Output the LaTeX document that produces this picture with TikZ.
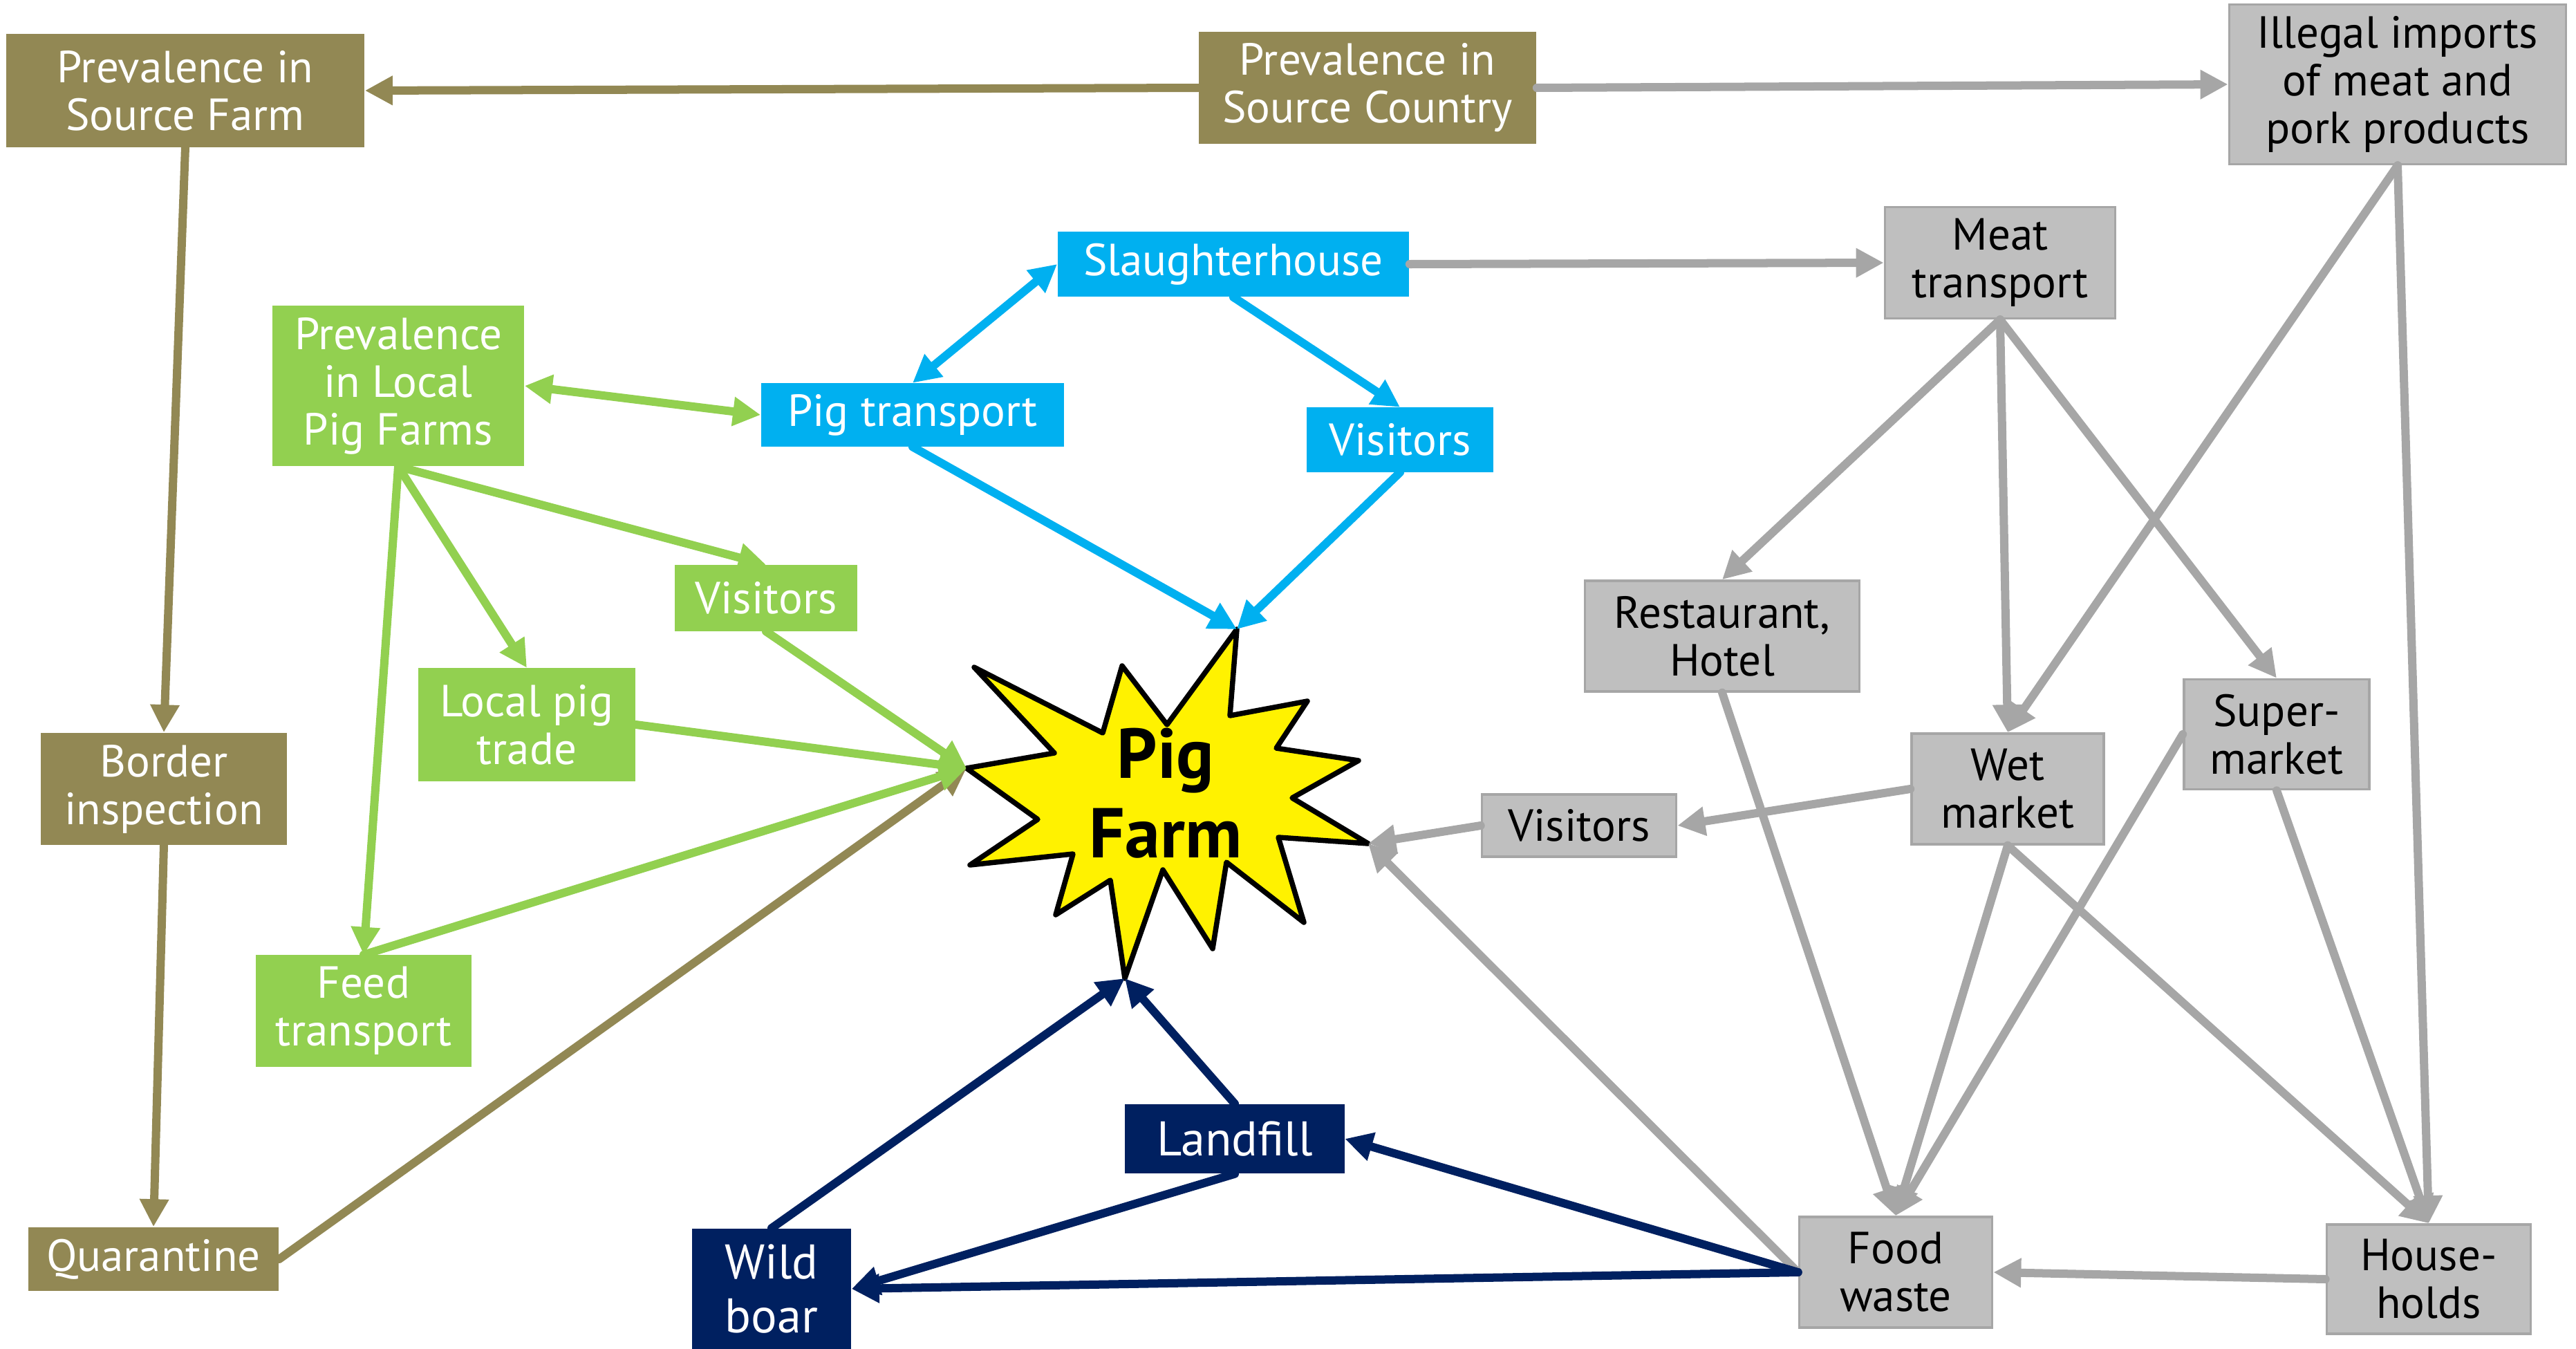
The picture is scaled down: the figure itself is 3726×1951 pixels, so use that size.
\documentclass[tikz,border=0pt]{standalone}
\usepackage{fontspec}
\setmainfont{PT Sans}
\usetikzlibrary{arrows.meta}

\definecolor{brownbox}{RGB}{146,136,84}
\definecolor{greenbox}{RGB}{146,208,80}
\definecolor{cyanbox}{RGB}{0,176,240}
\definecolor{navybox}{RGB}{0,32,96}
\definecolor{grayfill}{RGB}{191,191,191}
\definecolor{grayline}{RGB}{166,166,166}

\begin{document}
\begin{tikzpicture}[x=0.01cm, y=-0.01cm,
  box/.style={rectangle, inner sep=0pt, align=center,
    font=\fontsize{18.5}{19.6}\selectfont, text=white},
  brownnode/.style={box, fill=brownbox},
  greennode/.style={box, fill=greenbox},
  cyannode/.style={box, fill=cyanbox},
  navynode/.style={box, fill=navybox, font=\fontsize{20}{22}\selectfont},
  graynode/.style={box, fill=grayfill, draw=grayline, line width=0.035cm, text=black},
  link/.style={line width=0.12cm, line cap=round, line join=round,
    -{Triangle[length=0.4cm, width=0.4cm]}},
  twoway/.style={line width=0.12cm, line join=round,
    {Triangle[length=0.4cm, width=0.4cm]}-{Triangle[length=0.4cm, width=0.4cm]}},
]
\useasboundingbox (0,0) rectangle (3726,1951);

% ---- sources and border control ----
\node[brownnode, minimum width=5.18cm, minimum height=1.63cm] (sf) at (268,131) {Prevalence in\\Source Farm};
\node[brownnode, minimum width=4.88cm, minimum height=1.62cm] (sc) at (1978,127) {Prevalence in\\Source Country};
\node[brownnode, minimum width=3.56cm, minimum height=1.62cm] (bi) at (237,1141) {Border\\inspection};
\node[brownnode, minimum width=3.62cm, minimum height=0.92cm] (qu) at (222,1821) {Quarantine};

% ---- local pig sector ----
\node[greennode, minimum width=3.64cm, minimum height=2.32cm] (lp) at (576,558) {Prevalence\\in Local\\Pig Farms};
\node[greennode, minimum width=2.63cm, minimum height=0.95cm] (gv) at (1108,865) {Visitors};
\node[greennode, minimum width=3.14cm, minimum height=1.63cm] (lt) at (762,1048) {Local pig\\trade};
\node[greennode, minimum width=3.12cm, minimum height=1.61cm] (ft) at (526,1462) {Feed\\transport};

% ---- slaughter chain ----
\node[cyannode, minimum width=5.08cm, minimum height=0.94cm] (sh) at (1784,382) {Slaughterhouse};
\node[cyannode, minimum width=4.38cm, minimum height=0.91cm] (pt) at (1320,600) {Pig transport};
\node[cyannode, minimum width=2.70cm, minimum height=0.93cm] (cv) at (2025,636) {Visitors};

% ---- meat products ----
\node[graynode, minimum width=4.87cm, minimum height=2.31cm] (ii) at (3468,122) {Illegal imports\\of meat and\\pork products};
\node[graynode, minimum width=3.33cm, minimum height=1.61cm] (mt) at (2893,380) {Meat\\transport};
\node[graynode, minimum width=3.97cm, minimum height=1.60cm] (rh) at (2491,920) {Restaurant,\\Hotel};
\node[graynode, minimum width=2.81cm, minimum height=0.90cm] (yv) at (2284,1194) {Visitors};
\node[graynode, minimum width=2.78cm, minimum height=1.60cm] (wm) at (2904,1141) {Wet\\market};
\node[graynode, minimum width=2.68cm, minimum height=1.59cm] (sm) at (3293,1062) {Super-\\market};
\node[graynode, minimum width=2.79cm, minimum height=1.60cm] (fw) at (2742,1840) {Food\\waste};
\node[graynode, minimum width=2.95cm, minimum height=1.58cm] (hh) at (3513,1850) {House-\\holds};

% ---- wildlife ----
\node[navynode, minimum width=3.17cm, minimum height=1.00cm] (lf) at (1786,1647) {Landfill};
\node[navynode, minimum width=2.30cm, minimum height=1.74cm] (wb) at (1116,1864) {Wild\\boar};

% ---- the pig farm ----
\coordinate (sT) at (1789,910);
\coordinate (sR) at (1979,1220);
\coordinate (sB) at (1627,1415);
\coordinate (sL) at (1398,1111);
\filldraw[fill=yellow, draw=black, line width=0.075cm, line join=round]
  (sT) -- (1779,1035) -- (1891,1014) -- (1846,1082) -- (1965,1100)
  -- (1869,1154) -- (sR) -- (1849,1211) -- (1886,1334) -- (1774,1247)
  -- (1754,1372) -- (1682,1258) -- (sB) -- (1606,1273) -- (1527,1323)
  -- (1552,1235) -- (1403,1251) -- (1501,1185) -- (sL) -- (1525,1089)
  -- (1409,965) -- (1595,1060) -- (1623,963) -- (1688,1048) -- cycle;
\node[align=center, inner sep=0pt, font=\fontsize{29}{32.7}\bfseries\selectfont] (pf) at (1686,1147) {Pig\\Farm};

% ---- brown connectors ----
\begin{scope}[draw=brownbox]
\draw[link] (sc.west) -- (sf.east);
\draw[link] (sf.south) -- (bi.north);
\draw[link] (bi.south) -- (qu.north);
\draw[link] (qu.east) -- (sL);
\end{scope}

% ---- green connectors ----
\begin{scope}[draw=greenbox]
\draw[twoway] (lp.east) -- (pt.west);
\draw[link] (lp.south) -- (gv.north);
\draw[link] (lp.south) -- (lt.north);
\draw[link] (lp.south) -- (ft.north);
\draw[link] (gv.south) -- (sL);
\draw[link] (lt.east) -- (sL);
\draw[link] (ft.north) -- (sL);
\end{scope}

% ---- cyan connectors ----
\begin{scope}[draw=cyanbox]
\draw[twoway] (pt.north) -- (sh.west);
\draw[link] (sh.south) -- (cv.north);
\draw[link] (pt.south) -- (sT);
\draw[link] (cv.south) -- (sT);
\end{scope}

% ---- gray connectors ----
\begin{scope}[draw=grayline, every path/.append style={line width=0.13cm}]
\draw[link] (sc.east) -- (ii.west);
\draw[link] (sh.east) -- (mt.west);
\draw[link] (mt.south) -- (rh.north);
\draw[link] (mt.south) -- (wm.north);
\draw[link] (mt.south) -- (sm.north);
\draw[link] (ii.south) -- (wm.north);
\draw[link] (ii.south) -- (hh.north);
\draw[link] (wm.west) -- (yv.east);
\draw[link] (yv.west) -- (sR);
\draw[link] (fw.west) -- (sR);
\draw[link] (rh.south) -- (fw.north);
\draw[link] (wm.south) -- (fw.north);
\draw[link] (sm.west) -- (fw.north);
\draw[link] (wm.south) -- (hh.north);
\draw[link] (sm.south) -- (hh.north);
\draw[link] (hh.west) -- (fw.east);
\end{scope}

% ---- navy connectors ----
\begin{scope}[draw=navybox]
\draw[link] (fw.west) -- (lf.east);
\draw[link] (fw.west) -- (wb.east);
\draw[link] (lf.south) -- (wb.east);
\draw[link] (wb.north) -- (sB);
\draw[link] (lf.north) -- (sB);
\end{scope}
\end{tikzpicture}
\end{document}
